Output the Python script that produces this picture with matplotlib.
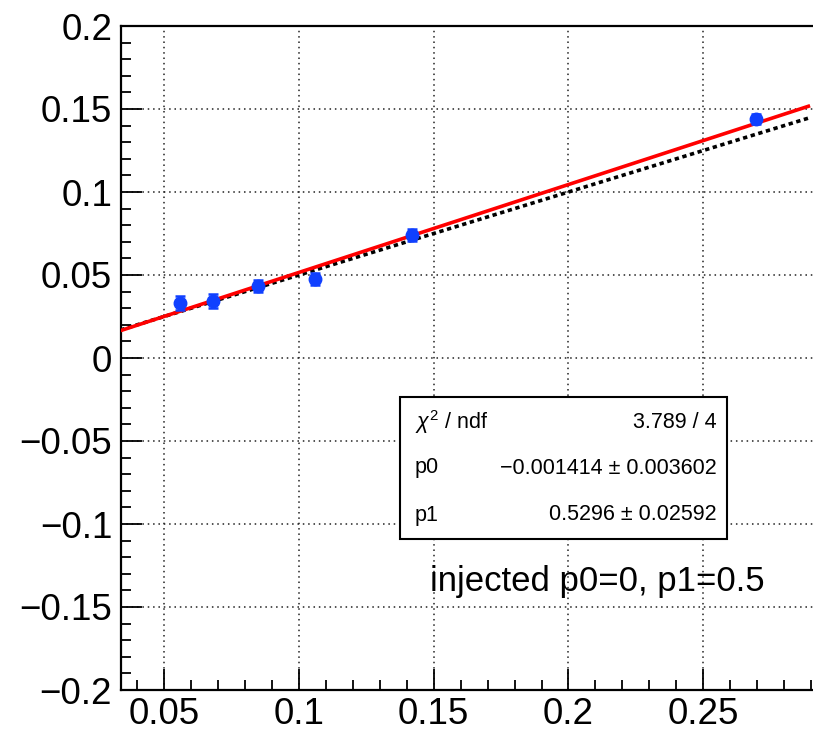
import numpy as np
import matplotlib.pyplot as plt
from matplotlib.ticker import MultipleLocator
from matplotlib.patches import Rectangle

plt.rcParams['font.family'] = ['Liberation Sans', 'DejaVu Sans']

# measured points with errors
x_pts = [0.0559, 0.0682, 0.0849, 0.1058, 0.1418, 0.2697]
y_pts = [0.0331, 0.0343, 0.0434, 0.0476, 0.0741, 0.1440]
y_err = [0.0040, 0.0040, 0.0038, 0.0038, 0.0037, 0.0030]

# fit result and injected truth
p0_fit, p1_fit = -0.001414, 0.5296
p0_inj, p1_inj = 0.0, 0.5
line_x = np.array([0.0338, 0.2890])

x_min, x_max = 0.0338, 0.2968
y_min, y_max = -0.2, 0.2

W, H = 813, 734
fig = plt.figure(figsize=(W / 100, H / 100), dpi=100)
left_px, right_px, top_px, bot_px = 120.5, 829.4, 26, 690
ax = fig.add_axes([left_px / W, 1 - bot_px / H,
                   (right_px - left_px) / W, (bot_px - top_px) / H])

ax.set_xlim(x_min, x_max)
ax.set_ylim(y_min, y_max)

ax.plot(line_x, p0_inj + p1_inj * line_x, color='black', lw=2.6,
        ls=(0, (1.2, 1.0)), zorder=3)
ax.plot(line_x, p0_fit + p1_fit * line_x, color='red', lw=2.6, zorder=4)
ax.errorbar(x_pts, y_pts, yerr=y_err, fmt='o', color='#1040ff',
            markersize=9, elinewidth=1.8, capsize=3.5, capthick=1.8, zorder=5)

ax.xaxis.set_major_locator(MultipleLocator(0.05))
ax.xaxis.set_minor_locator(MultipleLocator(0.01))
ax.yaxis.set_major_locator(MultipleLocator(0.05))
ax.yaxis.set_minor_locator(MultipleLocator(0.01))
fmt = plt.FuncFormatter(lambda v, p: f'{v:g}'.replace('-', '\u2212'))
ax.xaxis.set_major_formatter(fmt)
ax.yaxis.set_major_formatter(fmt)

ax.tick_params(which='both', direction='in', top=False, right=False, width=1.3)
ax.tick_params(which='major', length=15, labelsize=26.5, pad=6)
ax.tick_params(axis='x', which='major', pad=5)
ax.tick_params(which='minor', length=7)

ax.grid(True, which='major', ls=(0, (1, 2.5)), color='#222222', lw=1.1)
for s in ax.spines.values():
    s.set_linewidth(1.6)

# fit statistics box
box_l, box_t, box_r, box_b = 400, 397, 727, 539
fig.add_artist(Rectangle((box_l / W, 1 - box_b / H), (box_r - box_l) / W,
                         (box_b - box_t) / H, transform=fig.transFigure,
                         facecolor='white', edgecolor='black', lw=1.5, zorder=10))
rows = [(r'$\chi^{2}$ / ndf', '3.789 / 4', 422),
        ('p0', '\u22120.001414 \u00b1 0.003602', 468),
        ('p1', '0.5296 \u00b1 0.02592', 515)]
plt.rcParams['mathtext.fontset'] = 'custom'
plt.rcParams['mathtext.it'] = 'Liberation Sans:italic'
plt.rcParams['mathtext.rm'] = 'Liberation Sans'
for name, val, ypx in rows:
    fig.text(415 / W, 1 - ypx / H, name, fontsize=15.5, ha='left', va='center', zorder=11)
    fig.text(717 / W, 1 - ypx / H, val, fontsize=15.5, ha='right', va='center', zorder=11)

fig.text(430 / W, 1 - 591 / H, 'injected p0=0, p1=0.5', fontsize=25,
         ha='left', va='baseline')

fig.savefig('out.png', dpi=100)
